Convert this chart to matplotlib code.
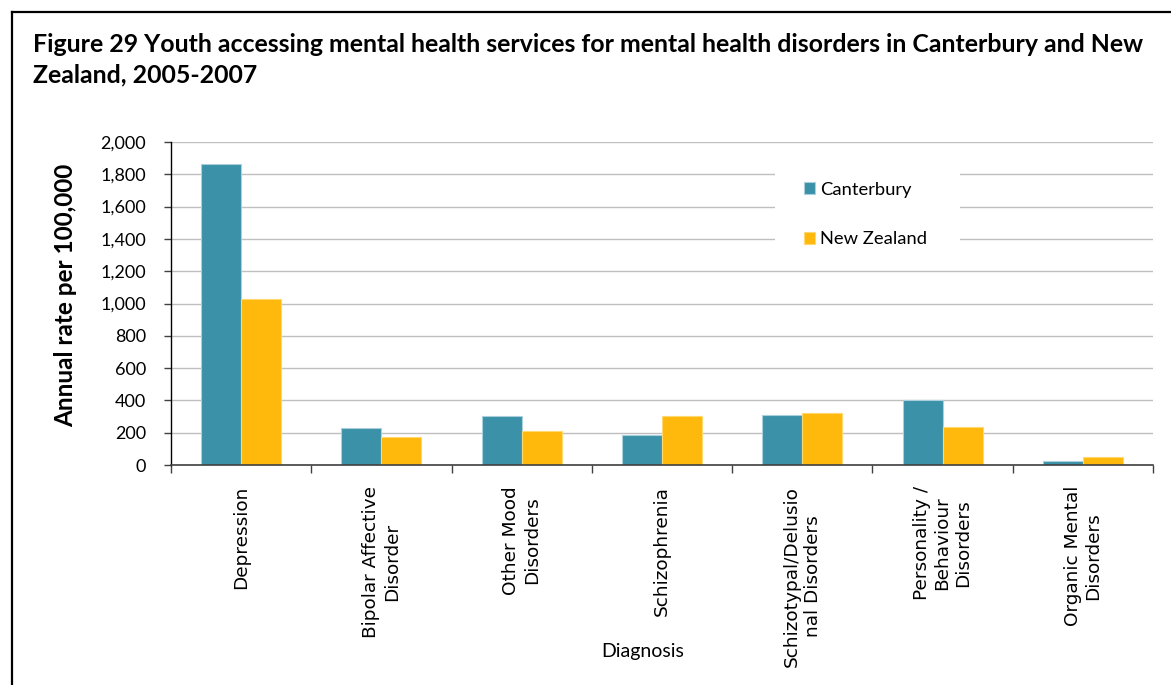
import matplotlib
matplotlib.use("Agg")
import matplotlib.pyplot as plt
import numpy as np
from matplotlib.patches import Rectangle
from matplotlib.lines import Line2D

# Diagnosis categories (line breaks as printed on the axis)
categories = [
    "Depression",
    "Bipolar Affective\nDisorder",
    "Other Mood\nDisorders",
    "Schizophrenia",
    "Schizotypal/Delusio\nnal Disorders",
    "Personality /\nBehaviour\nDisorders",
    "Organic Mental\nDisorders",
]
canterbury = [1863, 228, 302, 184, 308, 401, 25]
new_zealand = [1025, 174, 208, 302, 321, 235, 48]
y_ticks = [0, 200, 400, 600, 800, 1000, 1200, 1400, 1600, 1800, 2000]

TEAL = "#3A91A8"
GOLD = "#FFB80C"

W, H = 1171, 685
fig = plt.figure(figsize=(W / 100, H / 100), dpi=100)
fig.patch.set_facecolor("white")

def fx(px):
    return px / W

def fy(py):
    return 1 - py / H

# outer frame (left and top edges)
fig.add_artist(Line2D([fx(12), fx(12)], [fy(12), 0], color="black", lw=1.6))
fig.add_artist(Line2D([fx(12), 1], [fy(12), fy(12)], color="black", lw=1.6))

fig.text(fx(33), fy(33),
         "Figure 29 Youth accessing mental health services for mental health disorders in Canterbury and New\nZealand, 2005-2007",
         fontsize=17.9, fontweight="bold", family="Lato", va="top", ha="left",
         linespacing=1.4)

ax = fig.add_axes([fx(171), fy(465), fx(1153) - fx(171), fy(142) - fy(465)])
x = np.arange(len(categories))
bw = 0.285
ax.bar(x - bw / 2, canterbury, bw, color=TEAL, edgecolor="#A9D0DC", linewidth=0.8,
       label="Canterbury", zorder=2)
ax.bar(x + bw / 2, new_zealand, bw, color=GOLD, edgecolor="#FFD970", linewidth=0.8,
       label="New Zealand", zorder=2)

ax.set_xlim(-0.5, len(categories) - 0.5)
ax.set_ylim(0, 2000)
ax.set_yticks(y_ticks)
ax.set_yticklabels([f"{v:,}" for v in y_ticks], family="Lato", fontsize=13)
ax.yaxis.grid(True, color="#BFBFBF", linewidth=1.0, zorder=0)
ax.set_axisbelow(True)

# category boundary ticks on the x axis
ax.set_xticks(np.arange(-0.5, len(categories), 1.0))
ax.set_xticklabels([])
ax.tick_params(axis="x", length=6, width=1, color="#404040", direction="out")
ax.tick_params(axis="y", length=5, width=1, color="#404040", direction="out", pad=13)

for i, lab in enumerate(categories):
    ax.text(i, -0.065, lab, transform=ax.get_xaxis_transform(), rotation=90,
            ha="center", va="top", multialignment="center",
            fontsize=13.3, family="DejaVu Sans", linespacing=1.18)

for s in ["top", "right"]:
    ax.spines[s].set_visible(False)
ax.spines["left"].set_color("#000000")
ax.spines["bottom"].set_color("#404040")
ax.spines["left"].set_linewidth(1.0)
ax.spines["bottom"].set_linewidth(1.2)

fig.text(fx(643), fy(651), "Diagnosis", ha="center", va="center",
         family="Lato", fontsize=14)
fig.text(fx(66), fy(295), "Annual rate per 100,000", rotation=90,
         ha="center", va="center", family="Lato", fontweight="bold", fontsize=17.5)

# white legend panel masking the gridlines
ax.add_patch(Rectangle((fx(775), fy(255)), fx(960) - fx(775), fy(163) - fy(255),
                       transform=fig.transFigure, facecolor="white",
                       edgecolor="none", zorder=1))
ax.legend(loc="upper left", bbox_to_anchor=(fx(787), fy(165)),
          bbox_transform=fig.transFigure, frameon=False,
          prop={"family": "Lato", "size": 13.2}, handlelength=0.6,
          handleheight=0.6, handletextpad=0.3, labelspacing=1.85)

fig.savefig("out.png", dpi=100, facecolor="white")
